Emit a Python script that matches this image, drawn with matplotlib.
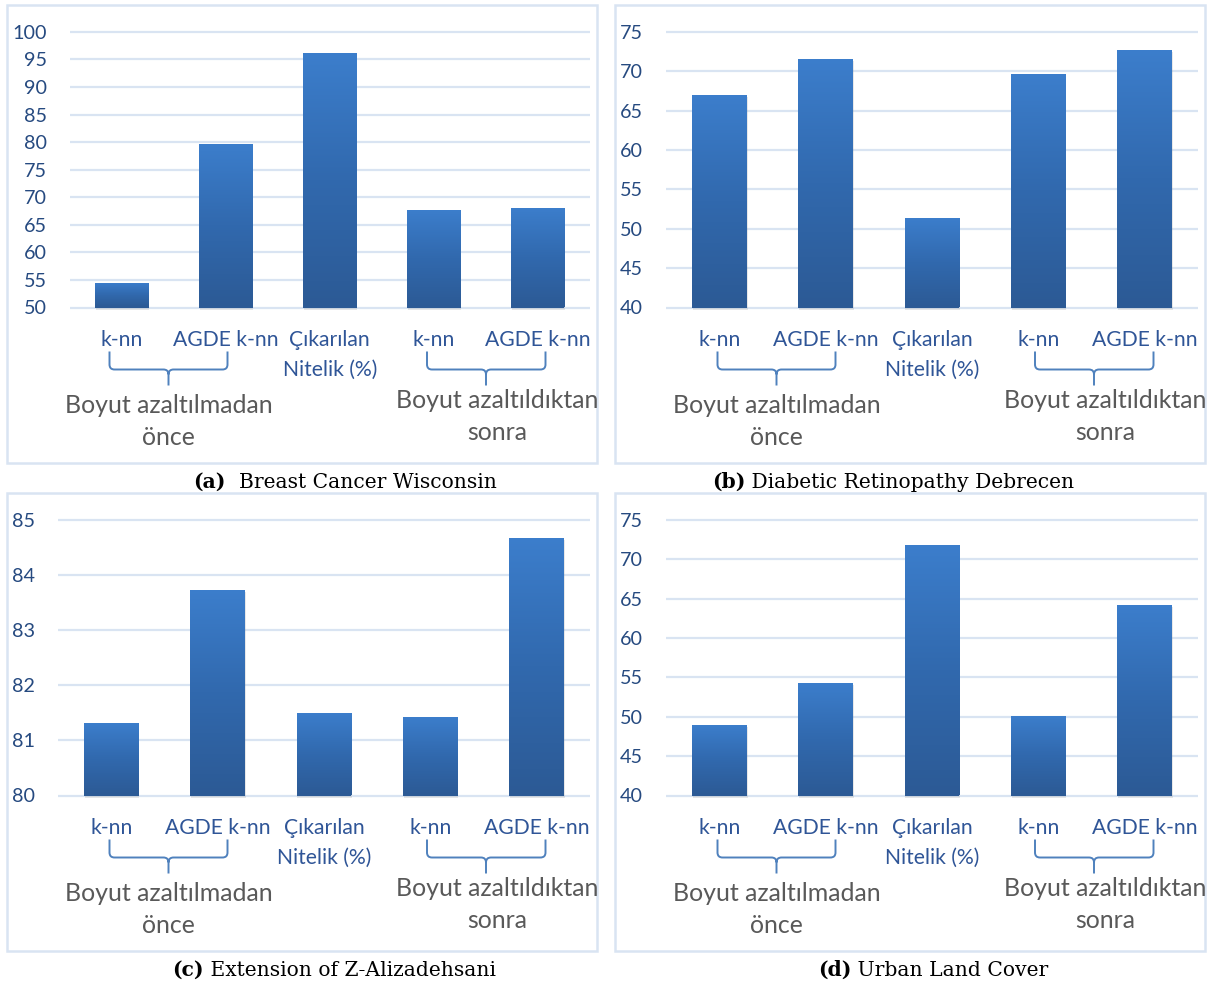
import numpy as np
import matplotlib
matplotlib.use("Agg")
import matplotlib.pyplot as plt
import matplotlib.patheffects as pe
import matplotlib.transforms as mtransforms
from matplotlib.patches import Rectangle, PathPatch
from matplotlib.path import Path
from matplotlib.colors import LinearSegmentedColormap

# Accuracy (%) per method, before / after dimensionality reduction
categories = [["k-nn"], ["AGDE k-nn"], ["Çıkarılan", "Nitelik (%)"], ["k-nn"], ["AGDE k-nn"]]
group_labels = ["Boyut azaltılmadan\nönce", "Boyut azaltıldıktan\nsonra"]

breast_cancer = [54.4, 79.6, 96.1, 67.6, 68.1]
diabetic_retinopathy = [67.0, 71.5, 51.3, 69.6, 72.7]
z_alizadehsani = [81.32, 83.73, 81.49, 81.43, 84.67]
urban_land_cover = [48.9, 54.3, 71.8, 50.1, 64.2]

panel_tags = ["(a)", "(b)", "(c)", "(d)"]
panel_names = ["  Breast Cancer Wisconsin", " Diabetic Retinopathy Debrecen",
               " Extension of Z-Alizadehsani", " Urban Land Cover"]
y_ticks = [np.arange(50, 101, 5), np.arange(40, 76, 5), np.arange(80, 86, 1), np.arange(40, 76, 5)]

# figure layout in pixels (origin top-left)
W, H = 1212, 985
borders = [(7, 5), (615, 5), (7, 493), (615, 493)]
box_w, box_h = 590, 458
plot_left = [63, 51.4, 51.1, 51.4]
plot_right = 582.7
plot_top, plot_bottom = 26.8, 302.5
caption_x = [193.5, 712, 172, 818]

TICK_COLOR = "#264A80"
CAT_COLOR = "#2F5597"
GROUP_COLOR = "#595959"
BRACE_COLOR = "#4F81BD"
GRID_COLOR = "#D9E4F2"

bar_cmap = LinearSegmentedColormap.from_list("bar", ["#2C5A95", "#3169AE", "#3C7ECC"])

plt.rcParams["font.family"] = ["Lato", "DejaVu Sans"]

fig = plt.figure(figsize=(W / 100, H / 100), dpi=100)


def fx(px):
    return px / W


def fy(py):
    return 1 - py / H


def brace_path(x0, xm, x1, y_top, y_mid, y_end):
    """Curly bracket under a pair of categories, in pixel coords."""
    r = 5.0
    verts = [
        (x0, y_top), (x0, y_mid - r), (x0, y_mid), (x0 + r, y_mid),
        (xm - r, y_mid), (xm, y_mid), (xm, y_mid + r), (xm, y_end),
        (x1, y_top), (x1, y_mid - r), (x1, y_mid), (x1 - r, y_mid),
        (xm + r, y_mid), (xm, y_mid), (xm, y_mid + r),
    ]
    codes = [
        Path.MOVETO, Path.LINETO, Path.CURVE3, Path.CURVE3,
        Path.LINETO, Path.CURVE3, Path.CURVE3, Path.LINETO,
        Path.MOVETO, Path.LINETO, Path.CURVE3, Path.CURVE3,
        Path.LINETO, Path.CURVE3, Path.CURVE3,
    ]
    return Path([(fx(x), fy(y)) for x, y in verts], codes)


datasets = [breast_cancer, diabetic_retinopathy, z_alizadehsani, urban_land_cover]

for i, values in enumerate(datasets):
    bx, by = borders[i]

    # panel frame
    fig.add_artist(Rectangle((fx(bx), fy(by + box_h)), fx(box_w), box_h / H,
                             transform=fig.transFigure, fill=False,
                             edgecolor=GRID_COLOR, linewidth=1.8))

    left = bx + plot_left[i]
    right = bx + plot_right
    ax = fig.add_axes([fx(left), fy(by + plot_bottom), fx(right - left),
                       (plot_bottom - plot_top) / H])
    ticks = y_ticks[i]
    x = np.arange(len(values))

    ax.hlines(ticks, -0.5, len(values) - 0.5, color=GRID_COLOR, linewidth=1.6,
              zorder=0, clip_on=False)

    bars = ax.bar(x, np.array(values) - ticks[0], bottom=ticks[0], width=0.515,
                  color="#2C5A95", zorder=2, clip_on=False,
                  path_effects=[pe.SimplePatchShadow(offset=(0.5, -1.5), shadow_rgbFace="#8c8c8c", alpha=0.2),
                                pe.Normal()])
    grad = np.linspace(0, 1, 256).reshape(-1, 1)
    for b in bars:
        x0 = b.get_x()
        im = ax.imshow(grad, cmap=bar_cmap, origin="lower", aspect="auto",
                       extent=[x0, x0 + b.get_width(), b.get_y(), b.get_y() + b.get_height()],
                       zorder=3, interpolation="bilinear")
        im.set_clip_path(b)

    ax.set_xlim(-0.5, len(values) - 0.5)
    ax.set_ylim(ticks[0], ticks[-1])
    ax.set_yticks(ticks)
    ax.set_yticklabels([str(t) for t in ticks])
    ax.set_xticks([])
    ax.tick_params(axis="y", length=0, pad=16.8, labelsize=14.2, labelcolor=TICK_COLOR)
    for s in ax.spines.values():
        s.set_visible(False)
    ax.patch.set_alpha(0)

    # category labels below each bar
    tr = mtransforms.blended_transform_factory(ax.transData, fig.transFigure)
    for xi, lines in zip(x, categories):
        for k, line in enumerate(lines):
            ax.text(xi, fy(by + plot_bottom + 38.7 + 29.5 * k), line, transform=tr,
                    ha="center", va="baseline", fontsize=15.2, color=CAT_COLOR)

    # braces grouping the methods
    for x0, xm, x1 in [(102.5, 161.5, 220.5), (420, 479, 538.5)]:
        path = brace_path(bx + x0, bx + xm, bx + x1, by + plot_bottom + 44,
                          by + plot_bottom + 62, by + plot_bottom + 78)
        fig.add_artist(PathPatch(path, transform=fig.transFigure, fill=False,
                                 edgecolor=BRACE_COLOR, linewidth=1.4, capstyle="butt"))

    # group labels
    for (gx, gy), label in zip([(161.5, 408.3), (490, 403)], group_labels):
        l1, l2 = label.split("\n")
        fig.text(fx(bx + gx), fy(by + gy), l1, ha="center", va="baseline",
                 fontsize=17.9, color=GROUP_COLOR)
        fig.text(fx(bx + gx), fy(by + gy + 31.7), l2, ha="center", va="baseline",
                 fontsize=17.9, color=GROUP_COLOR)

    # caption under the panel
    tag = fig.text(fx(caption_x[i]), fy(by + box_h + 25.2), panel_tags[i],
                   ha="left", va="baseline", fontsize=14.6, fontweight="bold",
                   family="DejaVu Serif", color="black")
    ax.annotate(panel_names[i], xy=(1, 0), xycoords=tag, ha="left", va="bottom",
                fontsize=14.6, family="DejaVu Serif", color="black",
                annotation_clip=False)

fig.savefig("out.png", dpi=100, facecolor="white")
